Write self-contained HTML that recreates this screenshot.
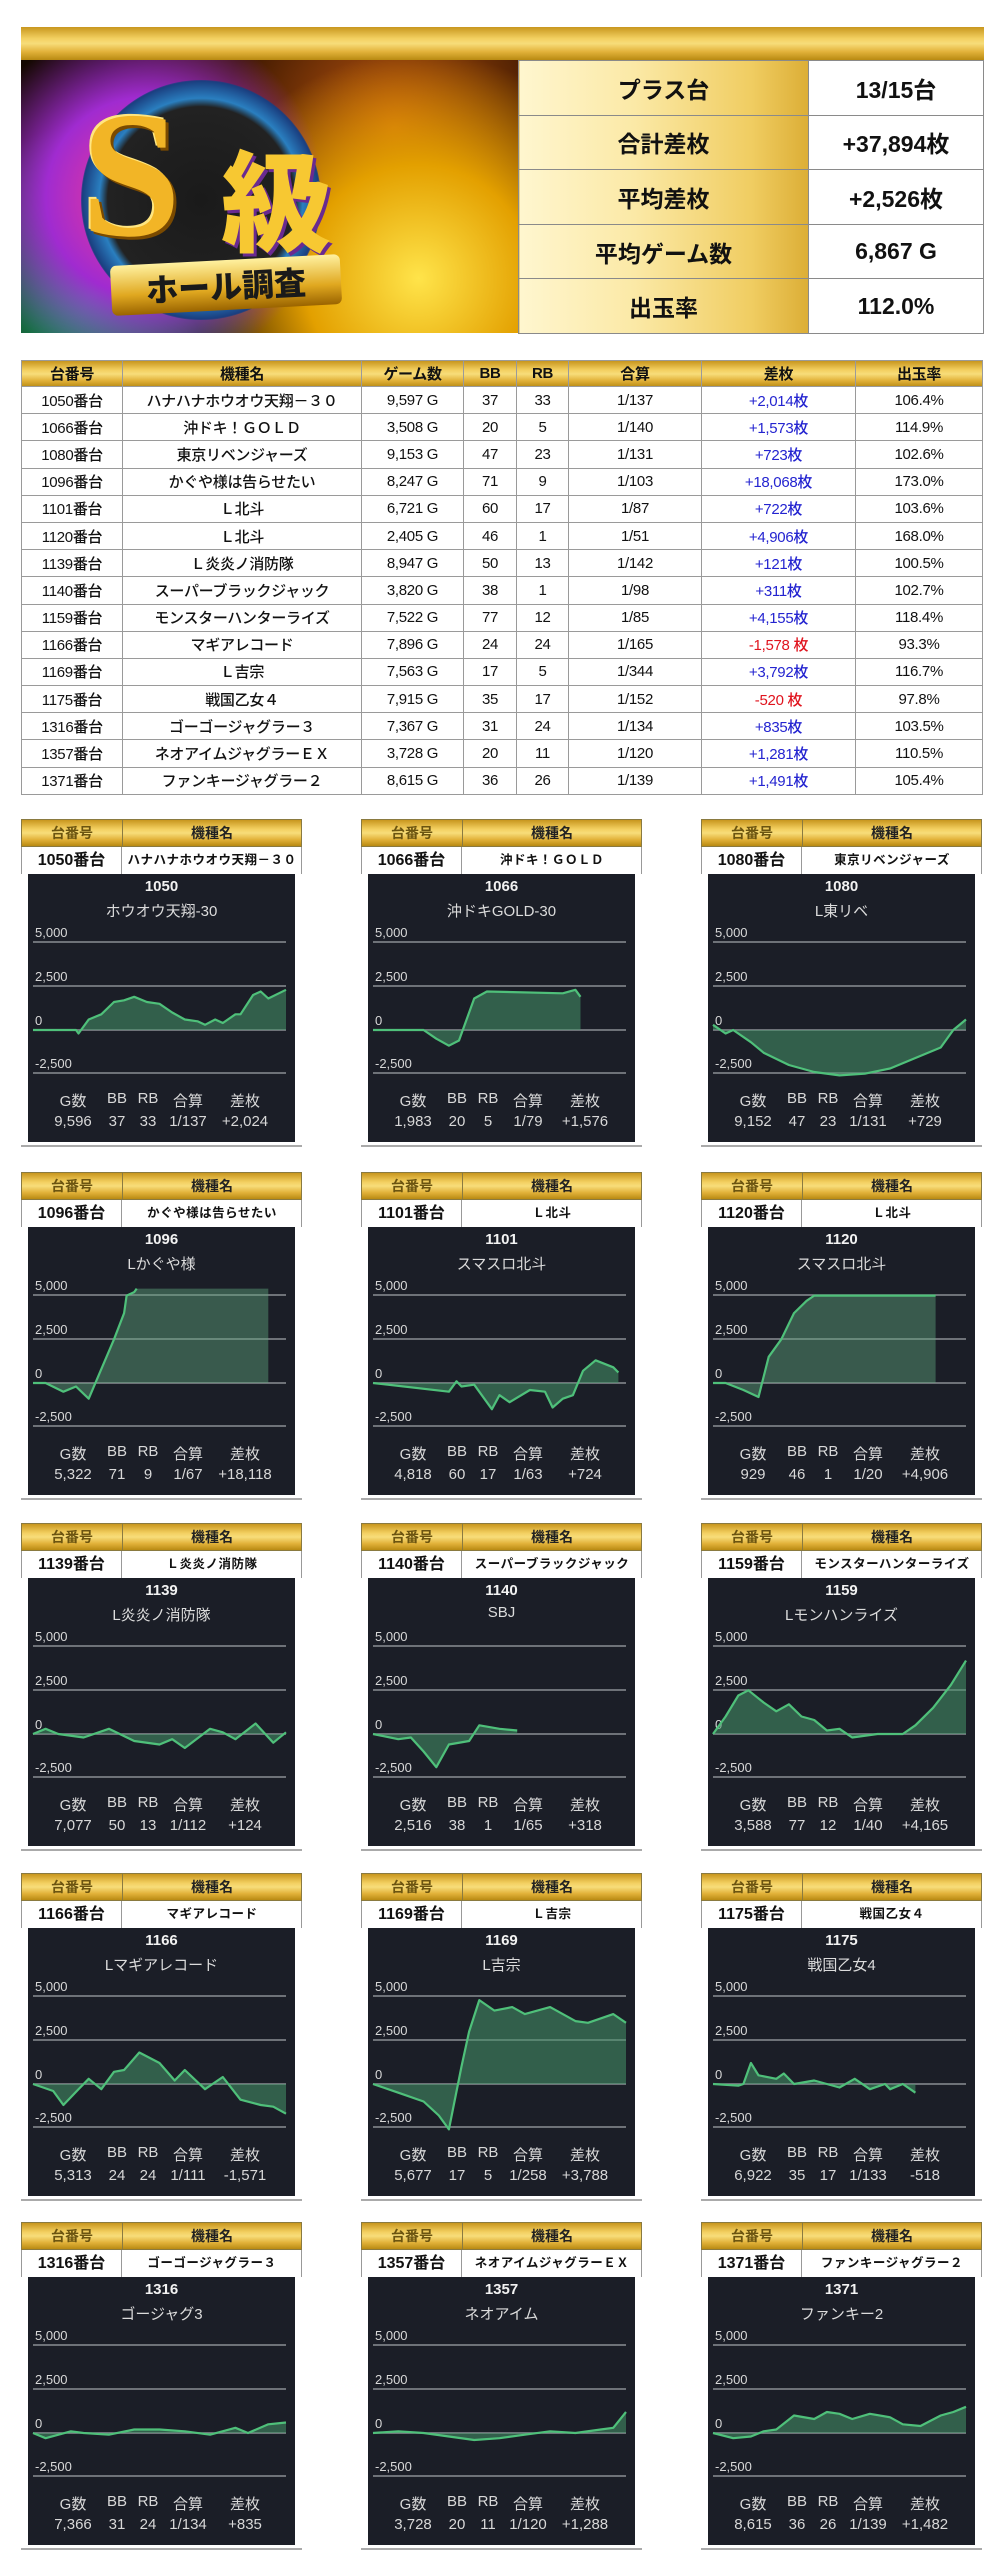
<!DOCTYPE html>
<html><head><meta charset="utf-8">
<style>
*{margin:0;padding:0;box-sizing:border-box}
body{width:1004px;height:2560px;background:#fff;position:relative;font-family:"Liberation Sans","Noto Sans CJK JP",sans-serif;overflow:hidden}
.abs{position:absolute}
.gold{background:linear-gradient(180deg,#c8961e 0%,#f3d061 35%,#f7dd7a 50%,#e2b23a 75%,#b98a12 100%)}
.goldh{background:linear-gradient(90deg,#fff6cf 0%,#fbe9a6 40%,#f0cd62 80%,#dcae36 100%)}
#topbar{left:21px;top:27px;width:963px;height:33px}
#logo{left:21px;top:60px;width:497px;height:273px;overflow:hidden;background:radial-gradient(circle at 25% 50%,#ff3a8a 0%,#a02bd0 25%,transparent 45%),radial-gradient(circle at 15% 85%,#18c27a 0%,transparent 35%),radial-gradient(circle at 80% 80%,#ffe44a 0%,#e3a000 25%,transparent 50%),radial-gradient(circle at 75% 25%,#c45a10 0%,#3a1600 40%,#140800 70%);}
table.st{border-collapse:collapse;position:absolute;left:518px;top:60px;width:466px}
table.st td{height:54.6px;border:1px solid #8a8a8a;font-family:"Liberation Sans","Noto Sans CJK JP",sans-serif;font-weight:700;font-size:23px;text-align:center;color:#111}
table.st td.l{width:290px}
table.mt{border-collapse:collapse;position:absolute;left:21px;top:360px;width:961px;table-layout:fixed}
table.mt td{border:1px solid #9a9a9a;height:27.2px;text-align:center;font-family:"Liberation Sans","Noto Sans CJK JP",sans-serif;font-size:15px;font-weight:500;color:#111;letter-spacing:-0.3px;white-space:nowrap;overflow:hidden}
table.mt tr.h td{height:26px;font-weight:700;font-size:15px}
table.mt td.b{color:#2424d0}table.mt td.r{color:#e0141e}
.card{position:absolute;width:281px;height:328px}
.card .hd{position:absolute;left:0;top:0;width:281px;height:28px;border:1px solid #8a7a40}
.card .hd div,.card .nr div{position:absolute;top:0;height:100%;text-align:center;font-weight:700}
.card .hd .a{left:0;width:101px;line-height:26px;font-size:14px;color:#6b5410;border-right:1px solid #8a7a40}
.card .hd .m{left:101px;width:178px;line-height:26px;font-size:14px;color:#222}
.card .nr{position:absolute;left:0;top:28px;width:281px;height:27px;background:#fff;border-left:1px solid #999;border-right:1px solid #999}
.card .nr .a{left:0;width:100px;line-height:27px;font-size:16px;color:#111;border-right:1px solid #999}
.card .nr .m{left:100px;width:180px;line-height:27px;font-size:12.5px;color:#111;letter-spacing:0.5px}
.card .bl{position:absolute;left:0;top:326px;width:281px;height:2px;background:#aaa}
.card .dk{position:absolute;left:7px;top:55px;width:267px;height:268px;background:#1b1e27;color:#e8e8e8}
.dk .t1{position:absolute;left:0;width:267px;top:4px;text-align:center;font-weight:700;font-size:15px;color:#f2f2f2}
.dk .t2{position:absolute;left:0;width:267px;top:26px;text-align:center;font-size:15px;color:#dcdcdc}
.dk svg{position:absolute;left:0;top:0}
.dk .s1,.dk .s2{position:absolute;top:0;height:20px;font-size:15px;color:#d8d8d8;text-align:center;width:70px;margin-left:-35px}
.dk .s1{top:216px}.dk .s2{top:239px}
</style></head><body>
<div id="topbar" class="abs gold"></div>
<div id="logo" class="abs">
 <div class="abs" style="left:60px;top:20px;width:240px;height:240px;border-radius:50%;background:radial-gradient(circle,#1a1a1a 0%,#222 55%,#2a7fc0 60%,#1a3f80 70%,transparent 72%)"></div>
 <div class="abs" style="left:60px;top:15px;font-size:180px;line-height:200px;font-weight:900;font-family:'Liberation Serif',serif;color:#f2b526;text-shadow:3px 3px 0 #7a4a00,-2px -2px 0 #ffe680">S</div>
 <div class="abs" style="left:200px;top:70px;font-size:110px;line-height:130px;font-weight:900;font-family:'Noto Sans CJK JP',sans-serif;color:#f7c832;text-shadow:3px 3px 0 #6a2a90">級</div>
 <div class="abs" style="left:90px;top:200px;width:230px;height:50px;background:linear-gradient(180deg,#fff1a0,#e0a820 60%,#9a6400);transform:rotate(-3deg);border-radius:6px;text-align:center;font-size:32px;line-height:50px;font-weight:900;font-family:'Noto Sans CJK JP',sans-serif;color:#1a1a1a">ホール調査</div>
</div>
<table class="st">
<tr><td class="l goldh">プラス台</td><td>13/15台</td></tr>
<tr><td class="l goldh">合計差枚</td><td>+37,894枚</td></tr>
<tr><td class="l goldh">平均差枚</td><td>+2,526枚</td></tr>
<tr><td class="l goldh">平均ゲーム数</td><td>6,867 G</td></tr>
<tr><td class="l goldh">出玉率</td><td>112.0%</td></tr>
</table>
<table class="mt">
<colgroup><col style="width:101px"><col style="width:239px"><col style="width:102px"><col style="width:53px"><col style="width:52px"><col style="width:133px"><col style="width:154px"><col style="width:127px"></colgroup>
<tr class="h gold"><td>台番号</td><td>機種名</td><td>ゲーム数</td><td>BB</td><td>RB</td><td>合算</td><td>差枚</td><td>出玉率</td></tr>
<tr><td>1050番台</td><td>ハナハナホウオウ天翔－３０</td><td>9,597 G</td><td>37</td><td>33</td><td>1/137</td><td class="b">+2,014枚</td><td>106.4%</td></tr>
<tr><td>1066番台</td><td>沖ドキ！ＧＯＬＤ</td><td>3,508 G</td><td>20</td><td>5</td><td>1/140</td><td class="b">+1,573枚</td><td>114.9%</td></tr>
<tr><td>1080番台</td><td>東京リベンジャーズ</td><td>9,153 G</td><td>47</td><td>23</td><td>1/131</td><td class="b">+723枚</td><td>102.6%</td></tr>
<tr><td>1096番台</td><td>かぐや様は告らせたい</td><td>8,247 G</td><td>71</td><td>9</td><td>1/103</td><td class="b">+18,068枚</td><td>173.0%</td></tr>
<tr><td>1101番台</td><td>Ｌ北斗</td><td>6,721 G</td><td>60</td><td>17</td><td>1/87</td><td class="b">+722枚</td><td>103.6%</td></tr>
<tr><td>1120番台</td><td>Ｌ北斗</td><td>2,405 G</td><td>46</td><td>1</td><td>1/51</td><td class="b">+4,906枚</td><td>168.0%</td></tr>
<tr><td>1139番台</td><td>Ｌ炎炎ノ消防隊</td><td>8,947 G</td><td>50</td><td>13</td><td>1/142</td><td class="b">+121枚</td><td>100.5%</td></tr>
<tr><td>1140番台</td><td>スーパーブラックジャック</td><td>3,820 G</td><td>38</td><td>1</td><td>1/98</td><td class="b">+311枚</td><td>102.7%</td></tr>
<tr><td>1159番台</td><td>モンスターハンターライズ</td><td>7,522 G</td><td>77</td><td>12</td><td>1/85</td><td class="b">+4,155枚</td><td>118.4%</td></tr>
<tr><td>1166番台</td><td>マギアレコード</td><td>7,896 G</td><td>24</td><td>24</td><td>1/165</td><td class="r">-1,578 枚</td><td>93.3%</td></tr>
<tr><td>1169番台</td><td>Ｌ吉宗</td><td>7,563 G</td><td>17</td><td>5</td><td>1/344</td><td class="b">+3,792枚</td><td>116.7%</td></tr>
<tr><td>1175番台</td><td>戦国乙女４</td><td>7,915 G</td><td>35</td><td>17</td><td>1/152</td><td class="r">-520 枚</td><td>97.8%</td></tr>
<tr><td>1316番台</td><td>ゴーゴージャグラー３</td><td>7,367 G</td><td>31</td><td>24</td><td>1/134</td><td class="b">+835枚</td><td>103.5%</td></tr>
<tr><td>1357番台</td><td>ネオアイムジャグラーＥＸ</td><td>3,728 G</td><td>20</td><td>11</td><td>1/120</td><td class="b">+1,281枚</td><td>110.5%</td></tr>
<tr><td>1371番台</td><td>ファンキージャグラー２</td><td>8,615 G</td><td>36</td><td>26</td><td>1/139</td><td class="b">+1,491枚</td><td>105.4%</td></tr>
</table>

<div id="cards"></div>
<script>
var C=[
["1050","ハナハナホウオウ天翔－３０","ホウオウ天翔-30",["9,596","37","33","1/137","+2,024"],[[0,0],[.17,0],[.18,-.2],[.22,.6],[.27,.9],[.32,1.6],[.36,1.7],[.4,1.9],[.45,1.6],[.5,1.5],[.55,1],[.6,.6],[.65,.5],[.68,.3],[.72,.6],[.75,.4],[.8,.9],[.82,.9],[.87,2],[.9,2.2],[.93,1.8],[1,2.3]]],
["1066","沖ドキ！ＧＯＬＤ","沖ドキGOLD-30",["1,983","20","5","1/79","+1,576"],[[0,0],[.2,0],[.25,-.5],[.3,-.9],[.34,-.6],[.4,1.8],[.45,2.2],[.75,2.1],[.8,2.3],[.82,1.9]]],
["1080","東京リベンジャーズ","L東リベ",["9,152","47","23","1/131","+729"],[[0,.3],[.05,-.2],[.08,0],[.15,-.7],[.2,-1.3],[.3,-2],[.4,-2.4],[.5,-2.6],[.6,-2.5],[.7,-2.2],[.8,-1.6],[.9,-1],[.95,0],[1,.6]]],
["1096","かぐや様は告らせたい","Lかぐや様",["5,322","71","9","1/67","+18,118"],[[0,0],[.05,0],[.12,-.5],[.17,-.2],[.22,-.9],[.32,2.5],[.36,4],[.37,5],[.4,5.2],[.41,5.4]],.93],
["1101","Ｌ北斗","スマスロ北斗",["4,818","60","17","1/63","+724"],[[0,0],[.3,-.5],[.33,.1],[.35,-.2],[.4,-.1],[.47,-1.5],[.5,-.7],[.54,-1.1],[.62,-.4],[.68,-.5],[.71,-1.4],[.75,-.9],[.79,-.7],[.83,.7],[.88,1.3],[.95,.9],[.97,.6]]],
["1120","Ｌ北斗","スマスロ北斗",["929","46","1","1/20","+4,906"],[[0,0],[.05,0],[.12,-.4],[.18,-.8],[.22,1.5],[.27,2.5],[.32,4],[.37,4.7],[.4,5],[.88,5]]],
["1139","Ｌ炎炎ノ消防隊","L炎炎ノ消防隊",["7,077","50","13","1/112","+124"],[[0,0],[.05,.3],[.1,0],[.2,-.2],[.3,.3],[.4,-.4],[.5,-.6],[.55,-.3],[.6,-.8],[.7,.3],[.75,.1],[.8,-.3],[.88,.6],[.95,-.5],[1,.1]]],
["1140","スーパーブラックジャック","SBJ",["2,516","38","1","1/65","+318"],[[0,0],[.1,-.3],[.15,-.2],[.2,-1],[.25,-1.9],[.3,-.6],[.38,-.4],[.42,.5],[.5,.3],[.57,.2]]],
["1159","モンスターハンターライズ","Lモンハンライズ",["3,588","77","12","1/40","+4,165"],[[0,0],[.05,1],[.1,2.2],[.14,2.5],[.2,1.8],[.25,1.3],[.3,1.7],[.35,1],[.4,.8],[.45,.2],[.5,.3],[.55,-.2],[.65,0],[.75,0],[.8,.5],[.87,1.5],[.94,2.8],[1,4.2]]],
["1166","マギアレコード","Lマギアレコード",["5,313","24","24","1/111","-1,571"],[[0,0],[.08,-.4],[.12,-1.2],[.18,-.3],[.22,.3],[.27,-.3],[.32,.7],[.36,.8],[.42,1.8],[.5,1.2],[.56,.2],[.6,.8],[.68,-.3],[.75,.4],[.82,-.9],[.9,-1.2],[.95,-1.3],[1,-1.7]]],
["1169","Ｌ吉宗","L吉宗",["5,677","17","5","1/258","+3,788"],[[0,0],[.1,-.5],[.2,-1],[.26,-1.8],[.3,-2.6],[.35,1],[.38,3],[.42,4.8],[.48,4.2],[.55,4.4],[.6,4],[.7,4.4],[.8,3.6],[.85,3.5],[.95,4],[1,3.5]]],
["1175","戦国乙女４","戦国乙女4",["6,922","35","17","1/133","-518"],[[0,0],[.1,-.1],[.12,0],[.15,1.2],[.18,.5],[.25,.3],[.28,.6],[.32,0],[.4,.2],[.5,-.2],[.56,.3],[.62,-.3],[.68,0],[.7,-.3],[.75,0],[.8,-.5]]],
["1316","ゴーゴージャグラー３","ゴージャグ3",["7,366","31","24","1/134","+835"],[[0,0],[.05,-.3],[.15,.1],[.2,0],[.3,-.1],[.4,.2],[.5,.2],[.6,.1],[.7,-.1],[.8,.3],[.85,0],[.93,.5],[1,.6]]],
["1357","ネオアイムジャグラーＥＸ","ネオアイム",["3,728","20","11","1/120","+1,288"],[[0,0],[.1,.1],[.2,0],[.3,-.2],[.4,-.4],[.5,-.3],[.6,-.1],[.7,.1],[.8,0],[.9,.2],[.95,.3],[1,1.2]]],
["1371","ファンキージャグラー２","ファンキー2",["8,615","36","26","1/139","+1,482"],[[0,0],[.08,-.3],[.15,-.2],[.2,.1],[.25,.2],[.32,1],[.4,.8],[.45,1.2],[.5,1.1],[.55,.8],[.62,1.1],[.7,.9],[.75,.5],[.82,.4],[.9,1],[.95,1.2],[1,1.5]]]
];
var X=[21,361,701],Y=[819,1172,1523,1873,2222];
var html="";
C.forEach(function(c,i){
 var x=X[i%3],y=Y[Math.floor(i/3)];
 var px=function(f){return (5+f*253).toFixed(1)},py=function(v){return (156-v*17.48).toFixed(1)};
 var pts=c[4],line=pts.map(function(p){return px(p[0])+","+py(p[1])}).join(" ");
 var endx=c[5]||pts[pts.length-1][0],lastv=pts[pts.length-1][1];
 var area="M"+px(pts[0][0])+",156 L"+line.split(" ").join(" L")+(c[5]?" L"+px(endx)+","+py(lastv):"")+" L"+px(endx)+",156 Z";
 var fillc=(i===3||i===5)?"rgba(95,165,125,0.45)":"rgba(70,150,105,0.55)";
 html+='<div class="card" style="left:'+x+'px;top:'+y+'px">'+
 '<div class="hd gold"><div class="a">台番号</div><div class="m">機種名</div></div>'+
 '<div class="nr"><div class="a">'+c[0]+'番台</div><div class="m">'+c[1]+'</div></div>'+
 '<div class="dk"><svg width="267" height="268">'+
 [68,112,156,199].map(function(g){return '<line x1="5" x2="258" y1="'+g+'" y2="'+g+'" stroke="#8a8d94" stroke-width="1.5"/>'}).join("")+
 '<text x="7" y="63" fill="#d8d8d8" font-size="13" font-family="Liberation Sans">5,000</text>'+
 '<text x="7" y="107" fill="#d8d8d8" font-size="13" font-family="Liberation Sans">2,500</text>'+
 '<text x="7" y="151" fill="#d8d8d8" font-size="13" font-family="Liberation Sans">0</text>'+
 '<text x="7" y="194" fill="#d8d8d8" font-size="13" font-family="Liberation Sans">-2,500</text>'+
 '<path d="'+area+'" fill="'+fillc+'"/>'+
 '<polyline points="'+line+'" fill="none" stroke="#4fc07a" stroke-width="2.2" stroke-linejoin="round"/></svg>'+
 '<div class="t1">'+c[0]+'</div><div class="t2">'+c[2]+'</div>'+
 ['G数','BB','RB','合算','差枚'].map(function(s,k){return '<div class="s1" style="left:'+[45,89,120,160,217][k]+'px">'+s+'</div>'}).join("")+
 c[3].map(function(s,k){return '<div class="s2" style="left:'+[45,89,120,160,217][k]+'px">'+s+'</div>'}).join("")+
 '</div><div class="bl"></div></div>';
});
document.getElementById("cards").innerHTML=html;
</script>
</body></html>
